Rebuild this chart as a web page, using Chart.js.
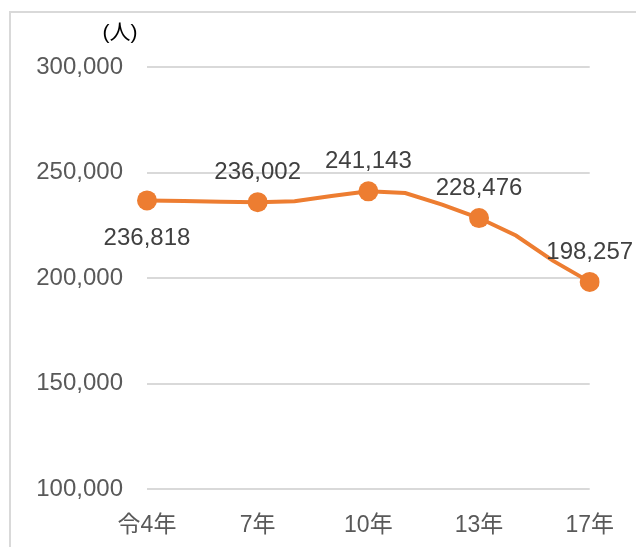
<!DOCTYPE html>
<html>
<head>
    <meta charset="utf-8">
    <title>人口の推移</title>
    <script src="https://cdn.jsdelivr.net/npm/chart.js"></script>
    <style>
        html, body { margin: 0; padding: 0; overflow: hidden; background: #fff; }
        #frame {
            position: absolute; left: 9px; top: 11px;
            width: 640px; height: 560px;
            border-left: 2px solid #d9d9d9; border-top: 2px solid #d9d9d9;
        }
        #wrap { position: absolute; left: 0; top: 0; width: 636px; height: 547px; overflow: hidden; }
    </style>
</head>
<body>
    <div id="frame"></div>
    <div id="wrap">
        <canvas id="linechart" width="636" height="568"></canvas>
    </div>

    <script>
        // data
        const years = ['令4年', '5年', '6年', '7年', '8年', '9年', '10年', '11年', '12年', '13年', '14年', '15年', '17年'];
        const population = [236818, 236600, 236200, 236002, 236400, 238900, 241143, 240300, 234800, 228476, 220200, 208300, 198257];
        const shownYears = ['令4年', '7年', '10年', '13年', '17年'];
        const labelBelow = ['令4年'];
        const yTicks = [100000, 150000, 200000, 250000, 300000];
        const unitLabel = '(人)';

        const fontFamily = '"Liberation Sans", Arial, "Noto Sans CJK JP", sans-serif';
        const orange = '#ed7d31';

        // points with a marker + value label
        const markerRadius = years.map(y => shownYears.includes(y) ? 10 : 0);

        const valueLabels = {
            id: 'valueLabels',
            afterDatasetsDraw(chart) {
                const ctx = chart.ctx;
                const meta = chart.getDatasetMeta(0);
                ctx.save();
                ctx.font = '24px ' + fontFamily;
                ctx.fillStyle = '#404040';
                ctx.textAlign = 'center';
                ctx.textBaseline = 'middle';
                meta.data.forEach((pt, i) => {
                    if (!shownYears.includes(years[i])) return;
                    const below = labelBelow.includes(years[i]);
                    const y = below ? pt.y + 38 : pt.y - 30;
                    ctx.fillText(population[i].toLocaleString('en-US'), pt.x, y);
                });
                // unit label above the y axis
                ctx.font = '21px ' + fontFamily;
                ctx.fillStyle = '#000';
                ctx.fillText(unitLabel, 120, 33);
                ctx.restore();
            }
        };

        var ctxLine = document.getElementById('linechart').getContext('2d');
        var myLineChart = new Chart(ctxLine, {
            type: 'line',
            data: {
                labels: years,
                datasets: [{
                    label: '人口',
                    data: population,
                    borderColor: orange,
                    backgroundColor: orange,
                    borderWidth: 4,
                    pointRadius: markerRadius,
                    pointHoverRadius: markerRadius,
                    pointBackgroundColor: orange,
                    pointBorderColor: orange,
                    pointBorderWidth: 0,
                    tension: 0
                }]
            },
            options: {
                responsive: false,
                animation: false,
                layout: { padding: { top: 67, right: 45, bottom: 7, left: 0 } },
                plugins: {
                    legend: { display: false },
                    tooltip: { enabled: false }
                },
                scales: {
                    x: {
                        offset: false,
                        grid: { display: false, drawTicks: false },
                        border: { display: false },
                        ticks: {
                            autoSkip: false,
                            maxRotation: 0,
                            padding: 22,
                            color: '#595959',
                            font: { size: 23, family: fontFamily },
                            callback: function (val, idx) {
                                const lab = years[idx];
                                return shownYears.includes(lab) ? lab : '';
                            }
                        }
                    },
                    y: {
                        min: yTicks[0],
                        max: yTicks[yTicks.length - 1],
                        afterFit: function (scale) { scale.width = 147; },
                        afterBuildTicks: function (scale) {
                            scale.ticks = yTicks.map(v => ({ value: v }));
                        },
                        grid: { color: '#d9d9d9', lineWidth: 2, drawTicks: false },
                        border: { display: false },
                        ticks: {
                            padding: 24,
                            color: '#595959',
                            font: { size: 24, family: fontFamily },
                            callback: function (v) { return v.toLocaleString('en-US'); }
                        }
                    }
                }
            },
            plugins: [valueLabels]
        });
    </script>
</body>
</html>
